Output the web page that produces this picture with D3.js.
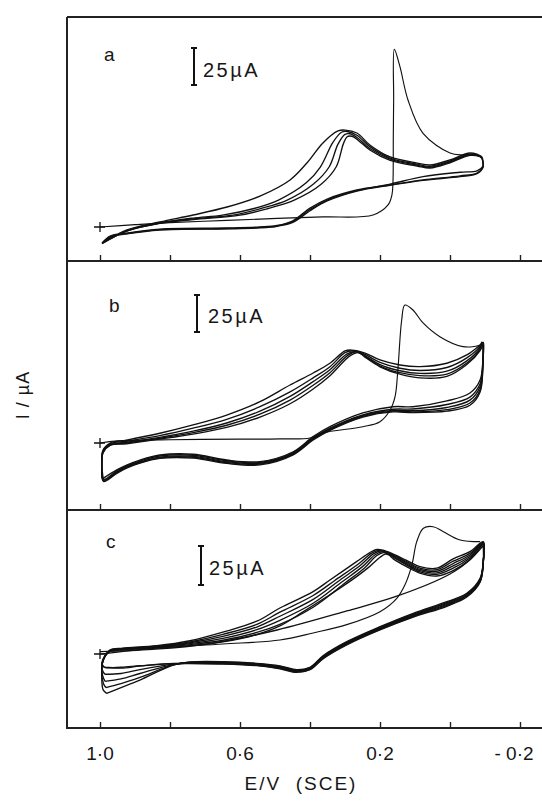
<!DOCTYPE html>
<html>
<head>
<meta charset="utf-8">
<script src="https://cdn.jsdelivr.net/npm/d3@7"></script>
<style>
  body { margin: 0; background: #fff; }
  text { font-family: "Liberation Sans", Arial, sans-serif; fill: #161616; }
</style>
</head>
<body>
<svg id="chart" width="542" height="804"></svg>
<script>
// potential axis (V vs SCE)
const ticksE = [1.0, 0.8, 0.6, 0.4, 0.2, 0.0, -0.2];
const tickLabelValues = [1.0, 0.6, 0.2, -0.2];
const tickLabelText = ['1·0', '0·6', '0·2', '- 0·2'];
const panelNames = ['a', 'b', 'c'];
const scaleBarUA = 25;

// panel a : [E / V, I / uA]
const aFirst = [[1.0,0],[0.9,1.6],[0.8,3],[0.637,4.5],[0.494,5.8],[0.363,6.8],[0.22,8.1],[0.177,14.9],[0.166,21.6],[0.163,29.7],[0.162,60],[0.161,85.8],[0.159,120],[0.143,108.3],[0.12,85.8],[0.077,63.3],[0.0,50],[-0.037,48.6],[-0.07,48.5],[-0.091,47.5]];
const aReturn1 = [[-0.091,47.5],[-0.057,48.4],[0.0,43.4],[0.057,39.8],[0.094,41.2],[0.171,45],[0.229,52],[0.262,58.5],[0.28,61.3],[0.294,61],[0.305,56],[0.325,40.7],[0.37,28.5],[0.445,18.2],[0.52,12.5],[0.6,8],[0.734,5],[0.829,2.4],[0.923,-2.8],[0.994,-11]];
const aCycleA = [[0.994,-10.8],[0.971,-6.1],[0.923,-4.1],[0.829,-1.4],[0.637,-0.7],[0.543,0],[0.494,1],[0.449,4.2],[0.4,12.8],[0.351,18.9],[0.266,25],[0.171,28.4],[0.077,31.8],[-0.029,34.5],[-0.077,36.5],[-0.094,40.5],[-0.094,43.9],[-0.091,47.3],[-0.057,50],[0.0,45.3],[0.057,41.9],[0.094,43.2],[0.171,47.3],[0.229,55.4],[0.266,63.5],[0.3,65.5],[0.32,64.9],[0.363,56.8],[0.409,43.2],[0.457,31.8],[0.543,20.9],[0.637,13.5],[0.734,8.1],[0.829,3.4],[0.923,-2],[0.994,-10.8]];
const aCycleB = [[0.994,-11],[0.971,-6.5],[0.923,-4.4],[0.829,-1.8],[0.637,-1],[0.543,-0.3],[0.494,0.7],[0.449,3.6],[0.4,11.8],[0.351,18.2],[0.266,24.6],[0.171,29],[0.077,34],[-0.029,37],[-0.077,38],[-0.094,41],[-0.094,44.5],[-0.089,47],[-0.057,49.2],[0.0,44.6],[0.057,41],[0.094,42.5],[0.171,46.6],[0.229,54.3],[0.266,62],[0.294,64.5],[0.31,64],[0.335,57],[0.37,40.7],[0.41,30],[0.49,18.2],[0.56,12.5],[0.65,8],[0.734,6],[0.829,2.8],[0.923,-2.4],[0.994,-11]];
const aCycleC = [[0.994,-11.3],[0.971,-6.8],[0.923,-4.7],[0.829,-2.1],[0.637,-1.3],[0.543,-0.6],[0.494,0.5],[0.449,3.1],[0.4,11],[0.351,17.6],[0.266,24.3],[0.171,28.2],[0.077,31.5],[-0.029,34],[-0.077,36],[-0.094,40],[-0.094,43.5],[-0.09,46.8],[-0.057,48.8],[0.0,44],[0.057,40.4],[0.094,41.8],[0.171,45.8],[0.229,53],[0.266,60.5],[0.286,63],[0.3,62.6],[0.32,56],[0.345,40.7],[0.39,29],[0.465,18.2],[0.54,12.5],[0.62,8],[0.734,5.5],[0.829,2.6],[0.923,-2.6],[0.994,-11.3]];

// panel b
const bFirst = [[1.0,0],[0.95,1.4],[0.8,2.2],[0.6,2.6],[0.486,2.8],[0.4,3.4],[0.363,6.8],[0.249,11],[0.2,14.4],[0.171,22.3],[0.157,31.3],[0.149,49.3],[0.138,83.1],[0.129,93.2],[0.106,89.9],[0.077,81.1],[0.029,71.8],[-0.037,65.1],[-0.086,66.2],[-0.094,68.2]];
const bCycleA = [[0.991,-23.9],[0.952,-18.2],[0.924,-14.9],[0.886,-11.5],[0.829,-8.1],[0.734,-7.6],[0.638,-11.5],[0.543,-12.6],[0.448,-5.9],[0.391,4.3],[0.343,11],[0.249,20.3],[0.163,24.5],[0.106,24.5],[0.009,28.4],[-0.057,33.8],[-0.086,42.6],[-0.094,56.1],[-0.095,68],[-0.086,66.2],[-0.048,59.5],[0.009,53.9],[0.086,51.6],[0.143,52.7],[0.2,56.1],[0.243,60.8],[0.281,62.8],[0.3,62.2],[0.343,53.9],[0.391,47.3],[0.457,39.2],[0.543,27.9],[0.638,18.9],[0.734,12.2],[0.829,6.6],[0.924,2],[0.971,0],[0.991,-4.7],[0.995,-13.5],[0.991,-23.9]];
const bCycleB = [[-0.091,68.4],[-0.086,65.5],[-0.048,57.5],[0.009,51],[0.086,49],[0.143,50.5],[0.2,54.5],[0.243,59.8],[0.275,62.3],[0.3,61],[0.343,51.5],[0.391,44],[0.457,34.5],[0.543,24.5],[0.638,16],[0.734,10],[0.829,5],[0.924,1.2],[0.971,-0.5],[0.991,-5],[0.995,-14],[0.99,-24.5],[0.952,-18.8],[0.924,-15.5],[0.886,-12.2],[0.829,-8.8],[0.734,-8.3],[0.638,-12],[0.543,-13.2],[0.448,-6.5],[0.391,3.5],[0.343,10],[0.249,19],[0.163,22.8],[0.106,23],[0.009,26],[-0.057,31],[-0.086,40],[-0.094,55],[-0.095,67.5]];
const bCycleC = [[-0.091,68],[-0.086,64.5],[-0.048,55.5],[0.009,48.5],[0.086,47],[0.143,48.8],[0.2,53],[0.243,59],[0.27,61.8],[0.295,60],[0.343,49.5],[0.391,41.5],[0.457,31.5],[0.543,21.5],[0.638,13.5],[0.734,8],[0.829,3.8],[0.924,0.5],[0.971,-1],[0.991,-5.5],[0.995,-14.5],[0.99,-25],[0.952,-19.5],[0.924,-16],[0.886,-12.8],[0.829,-9.5],[0.734,-9],[0.638,-12.6],[0.543,-13.8],[0.448,-7],[0.391,3],[0.343,9.5],[0.249,18.5],[0.163,22],[0.106,21.8],[0.009,24],[-0.057,29],[-0.086,38],[-0.094,54],[-0.095,67]];
const bCycleD = [[-0.091,67.5],[-0.086,63.5],[-0.048,54],[0.009,46.5],[0.086,45.5],[0.143,47.5],[0.2,52],[0.243,58.5],[0.265,61.5],[0.29,59.5],[0.343,47.5],[0.391,39],[0.457,29],[0.543,19.5],[0.638,12],[0.734,7],[0.829,3.2],[0.924,0],[0.971,-1.3],[0.991,-6],[0.995,-15],[0.99,-25.5],[0.952,-20],[0.924,-16.5],[0.886,-13.2],[0.829,-10],[0.734,-9.6],[0.638,-13.2],[0.543,-14.3],[0.448,-7.5],[0.391,2.5],[0.343,9],[0.249,18],[0.163,21.5],[0.106,21],[0.009,22.5],[-0.057,27],[-0.086,36],[-0.094,53],[-0.095,67]];
const bCycleE = [[-0.095,67],[-0.086,62.5],[-0.048,53],[0.009,45],[0.086,44],[0.143,46.5],[0.2,51.5],[0.243,58],[0.26,61],[0.285,59],[0.343,45.5],[0.391,36.5],[0.457,26.5],[0.543,17.5],[0.638,10.5],[0.734,6],[0.829,2.6],[0.924,-0.5],[0.971,-1.6],[0.991,-6.5],[0.995,-15.5],[0.99,-26],[0.952,-20.5],[0.924,-17],[0.886,-13.6],[0.829,-10.4],[0.734,-10.2],[0.638,-13.8],[0.543,-14.8],[0.448,-8],[0.391,2],[0.343,8.5],[0.249,17.5],[0.163,21],[0.106,20.5],[0.009,21.5],[-0.057,25.5],[-0.086,34.5],[-0.094,52],[-0.095,67]];

// panel c
const cFirst = [[1.0,0],[0.838,3.8],[0.649,6.4],[0.486,9],[0.391,13.5],[0.295,18.8],[0.2,27.1],[0.152,35.7],[0.129,44.2],[0.109,57],[0.095,72],[0.076,80.6],[0.048,81.6],[0.019,78.4],[-0.029,73.1],[-0.086,72]];
const cReturn1 = [[-0.095,71],[-0.06,61],[0.0,51.3],[0.15,37.2],[0.295,27.6],[0.494,15.4],[0.693,6.4],[0.85,3],[1.0,1.5]];
const cCycle1 = [[0.981,-25.2],[0.94,-21.5],[0.886,-16.7],[0.791,-7.1],[0.743,-5.1],[0.649,-4.9],[0.552,-6],[0.486,-7.6],[0.438,-10],[0.4,-8.5],[0.362,-1],[0.295,7.9],[0.2,17.5],[0.105,26.1],[0.009,33.5],[-0.048,38.9],[-0.086,48.5],[-0.095,60],[-0.095,72],[-0.057,65.6],[-0.009,61],[0.038,55],[0.086,56],[0.124,60],[0.162,64],[0.191,66.5],[0.209,67],[0.229,65],[0.267,59.2],[0.343,47.4],[0.391,40],[0.486,29.5],[0.552,21],[0.649,14],[0.743,8.5],[0.838,5.3],[0.934,3.7],[0.971,2.6],[0.991,-4],[0.995,-14.6],[0.991,-23],[0.981,-25.2]];
const cCycle2 = [[0.983,-21.5],[0.94,-19],[0.886,-15],[0.791,-7],[0.743,-5.3],[0.649,-5.2],[0.552,-6.3],[0.486,-8],[0.438,-10.3],[0.4,-8.8],[0.362,-1.4],[0.295,7.4],[0.2,17],[0.105,25.5],[0.009,33],[-0.048,38.5],[-0.086,48],[-0.095,60],[-0.095,71.5],[-0.057,64.5],[-0.009,59.5],[0.038,54],[0.086,55],[0.124,59.2],[0.162,63.5],[0.191,66],[0.205,66.4],[0.225,64.5],[0.26,58],[0.33,47],[0.391,37.5],[0.486,26.8],[0.552,19],[0.649,12.6],[0.743,7.8],[0.838,5],[0.934,3.5],[0.971,2.4],[0.991,-4],[0.995,-13],[0.99,-19],[0.983,-21.5]];
const cCycle3 = [[0.985,-17.5],[0.94,-16],[0.886,-12.5],[0.791,-6.8],[0.743,-5.6],[0.649,-5.5],[0.552,-6.6],[0.486,-8.4],[0.438,-10.6],[0.4,-9.1],[0.362,-1.8],[0.295,7],[0.2,16.6],[0.105,25],[0.009,32.4],[-0.048,38],[-0.086,47.5],[-0.095,59],[-0.095,71],[-0.057,63.5],[-0.009,58],[0.038,53],[0.086,54.2],[0.124,58.5],[0.162,63],[0.19,65.5],[0.2,66],[0.22,64],[0.255,57],[0.32,46.5],[0.391,35],[0.486,24.2],[0.552,17.3],[0.649,11.3],[0.743,7.2],[0.838,4.7],[0.934,3.3],[0.971,2.2],[0.991,-4],[0.995,-11],[0.99,-15.5],[0.985,-17.5]];
const cCycle4 = [[0.986,-13],[0.94,-12.5],[0.886,-10],[0.791,-6.5],[0.743,-5.8],[0.649,-5.8],[0.552,-6.9],[0.486,-8.8],[0.438,-11],[0.4,-9.4],[0.362,-2.2],[0.295,6.6],[0.2,16.2],[0.105,24.4],[0.009,31.8],[-0.048,37.5],[-0.086,47],[-0.095,59],[-0.095,70.5],[-0.057,62.5],[-0.009,56.5],[0.038,52],[0.086,53.4],[0.124,57.8],[0.162,62.5],[0.185,65],[0.195,65.5],[0.215,63.5],[0.25,56],[0.31,46],[0.391,32.5],[0.486,21.6],[0.552,15.6],[0.649,10],[0.743,6.6],[0.838,4.4],[0.934,3.1],[0.971,2],[0.991,-4],[0.995,-9],[0.99,-11.8],[0.986,-13]];
const cCycle5 = [[0.987,-8.5],[0.94,-9],[0.886,-7.8],[0.791,-6.2],[0.743,-6],[0.649,-6.1],[0.552,-7.2],[0.486,-9.2],[0.438,-11.4],[0.4,-9.8],[0.362,-2.6],[0.295,6.2],[0.2,15.8],[0.105,24],[0.009,31.2],[-0.048,37],[-0.086,46.5],[-0.095,58.5],[-0.095,70],[-0.057,61.5],[-0.009,55],[0.038,51],[0.086,52.6],[0.124,57],[0.162,62],[0.18,64.5],[0.19,65],[0.21,63],[0.245,55],[0.3,45.5],[0.391,30],[0.486,19],[0.552,13.8],[0.649,8.8],[0.743,6],[0.838,4.1],[0.934,2.9],[0.971,1.8],[0.991,-3.5],[0.993,-7],[0.987,-8.5]];
const cCycle6 = [[-0.095,69.5],[-0.057,60.5],[-0.009,53.5],[0.038,50],[0.086,51.8],[0.124,56],[0.162,61],[0.175,63.5],[0.185,64],[0.2,62],[0.23,56],[0.28,47.5],[0.35,37],[0.42,27],[0.486,18],[0.552,12.5],[0.649,7.8],[0.743,5.4],[0.838,3.8],[0.934,2.7],[0.971,1.6],[0.991,-3],[0.993,-7],[0.987,-8.5],[0.94,-8.5],[0.886,-7.5],[0.791,-6],[0.743,-6.2],[0.649,-6.4],[0.552,-7.5],[0.486,-9.5],[0.438,-11.8],[0.4,-10],[0.362,-3],[0.295,5.8],[0.2,15.4],[0.105,23.6],[0.009,30.6],[-0.048,36.5],[-0.086,46],[-0.095,58],[-0.095,69.5]];

const svg = d3.select('#chart');
const frameLeft = 67, frameRight = 542, frameTop = 17;

const x = d3.scaleLinear().domain([1.0, -0.2]).range([100, 520]);

const panels = [
  { name: panelNames[0], zeroY: 227, pxPerUA: 1.48, axisY: 261, labelX: 104, labelY: 61,
    barX: 194, barBottom: 85, textX: 203, textY: 77,
    curves: [aCycleA, aCycleB, aCycleC, aReturn1], first: aFirst },
  { name: panelNames[1], zeroY: 443, pxPerUA: 1.48, axisY: 510, labelX: 109, labelY: 312,
    barX: 197, barBottom: 332, textX: 208, textY: 323,
    curves: [bCycleA, bCycleB, bCycleC, bCycleD, bCycleE], first: bFirst },
  { name: panelNames[2], zeroY: 654, pxPerUA: 1.56, axisY: 728, labelX: 106, labelY: 548,
    barX: 201, barBottom: 585, textX: 209, textY: 575,
    curves: [cCycle1, cCycle2, cCycle3, cCycle4, cCycle5, cCycle6, cReturn1], first: cFirst }
];

// frame
svg.append('line')
  .attr('x1', frameLeft).attr('x2', frameRight)
  .attr('y1', frameTop).attr('y2', frameTop)
  .attr('stroke', '#222').attr('stroke-width', 2);
svg.append('line')
  .attr('x1', frameLeft).attr('x2', frameLeft)
  .attr('y1', frameTop).attr('y2', panels[2].axisY + 1)
  .attr('stroke', '#222').attr('stroke-width', 2);

panels.forEach(function(p) {
  const y = d3.scaleLinear().domain([0, 100]).range([p.zeroY, p.zeroY - 100 * p.pxPerUA]);
  const g = svg.append('g');

  // panel base line + ticks pointing up
  g.append('line')
    .attr('x1', frameLeft).attr('x2', frameRight)
    .attr('y1', p.axisY).attr('y2', p.axisY)
    .attr('stroke', '#222').attr('stroke-width', 2);

  const axis = d3.axisTop(x).tickValues(ticksE).tickSize(6).tickSizeOuter(0).tickFormat('');
  const ag = g.append('g').attr('transform', 'translate(0,' + p.axisY + ')').call(axis);
  ag.select('.domain').remove();
  ag.selectAll('.tick line').attr('stroke', '#222').attr('stroke-width', 1.4);

  const line = d3.line()
    .x(function(d) { return x(d[0]); })
    .y(function(d) { return y(d[1]); })
    .curve(d3.curveCatmullRom.alpha(0.5));

  g.selectAll('path.cycle')
    .data(p.curves)
    .enter()
    .append('path')
    .attr('class', 'cycle')
    .attr('d', line)
    .attr('fill', 'none')
    .attr('stroke', '#111')
    .attr('stroke-width', 1.35);

  g.append('path')
    .attr('d', line(p.first))
    .attr('fill', 'none')
    .attr('stroke', '#111')
    .attr('stroke-width', 1.15);

  // start marker
  const sx = x(1.0), sy = y(0);
  g.append('path')
    .attr('d', 'M' + (sx - 6) + ',' + sy + 'H' + (sx + 5) + 'M' + sx + ',' + (sy - 5) + 'V' + (sy + 5))
    .attr('stroke', '#111').attr('stroke-width', 1.3);

  // panel letter
  g.append('text')
    .attr('x', p.labelX).attr('y', p.labelY)
    .attr('font-size', 19)
    .text(p.name);

  // 25 uA scale bar
  const barTop = p.barBottom - (y(0) - y(scaleBarUA));
  g.append('path')
    .attr('d', 'M' + p.barX + ',' + barTop + 'V' + p.barBottom +
      'M' + (p.barX - 3) + ',' + barTop + 'H' + (p.barX + 3) +
      'M' + (p.barX - 3) + ',' + p.barBottom + 'H' + (p.barX + 3))
    .attr('stroke', '#111').attr('stroke-width', 2).attr('fill', 'none');
  g.append('text')
    .attr('x', p.textX).attr('y', p.textY)
    .attr('font-size', 20)
    .attr('letter-spacing', 2.5)
    .text(scaleBarUA + 'µA');
});

// x tick labels under the bottom panel
svg.selectAll('text.tick-label')
  .data(tickLabelValues)
  .enter()
  .append('text')
  .attr('class', 'tick-label')
  .attr('x', function(d, i) { return x(d) + (d < 0 ? -6 : 0); })
  .attr('y', 760)
  .attr('text-anchor', 'middle')
  .attr('font-size', 19)
  .text(function(d, i) { return tickLabelText[i]; });

// axis titles
svg.append('text')
  .attr('x', 301).attr('y', 790)
  .attr('text-anchor', 'middle')
  .attr('font-size', 19)
  .attr('letter-spacing', 2)
  .style('white-space', 'pre')
  .text('E/V  (SCE)');

svg.append('text')
  .attr('transform', 'translate(29,395) rotate(-90)')
  .attr('text-anchor', 'middle')
  .attr('font-size', 18)
  .attr('letter-spacing', 1)
  .style('white-space', 'pre')
  .text('I / µA');
</script>
</body>
</html>
